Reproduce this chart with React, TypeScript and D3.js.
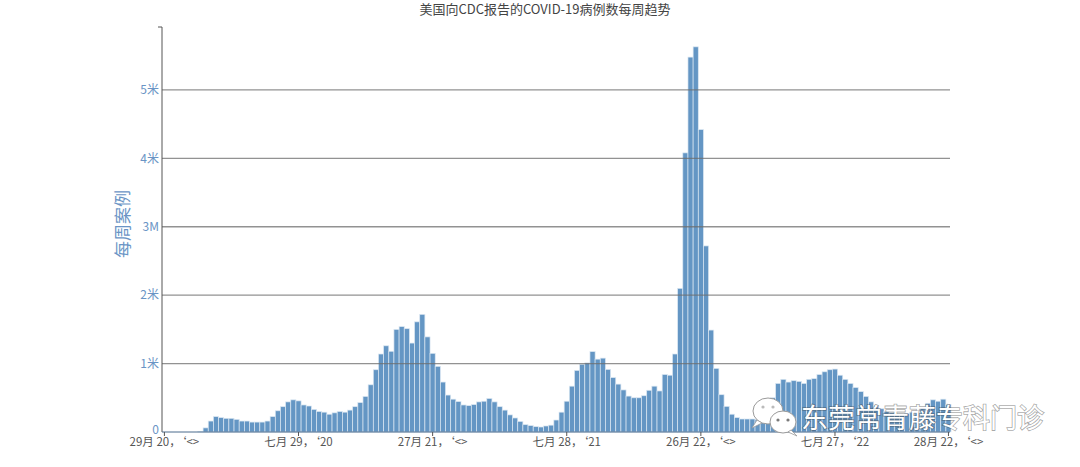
import React from "react";
import * as d3 from "d3";

// ---- data ----
const TITLE = "美国向CDC报告的COVID-19病例数每周趋势";
const Y_TITLE = "每周案例";
const FIRST_WEEK = "2020-03-18"; // first non-zero weekly bar
// weekly reported cases, millions
const weeklyCases = [
  0.01, 0.06, 0.16, 0.225, 0.21, 0.2, 0.2, 0.185, 0.16, 0.16, 0.145, 0.145, 0.145, 0.16,
  0.225, 0.31, 0.37, 0.44, 0.47, 0.455, 0.395, 0.38, 0.33, 0.3, 0.29, 0.26, 0.28, 0.3,
  0.29, 0.32, 0.37, 0.43, 0.52, 0.69, 0.91, 1.14, 1.26, 1.18, 1.5, 1.54, 1.51, 1.3,
  1.61, 1.72, 1.39, 1.15, 0.96, 0.73, 0.54, 0.48, 0.445, 0.395, 0.385, 0.4, 0.44, 0.45,
  0.49, 0.44, 0.37, 0.32, 0.25, 0.205, 0.155, 0.107, 0.093, 0.078, 0.073, 0.088, 0.1, 0.175,
  0.29, 0.45, 0.67, 0.9, 0.99, 1.01, 1.175, 1.065, 1.08, 0.915, 0.795, 0.7, 0.615, 0.525,
  0.5, 0.5, 0.53, 0.61, 0.67, 0.6, 0.84, 0.83, 1.14, 2.1, 4.08, 5.48, 5.63, 4.42,
  2.72, 1.49, 0.93, 0.545, 0.375, 0.26, 0.21, 0.19, 0.19, 0.19, 0.18, 0.19, 0.26, 0.5,
  0.71, 0.77, 0.73, 0.75, 0.74, 0.71, 0.77, 0.78, 0.84, 0.88, 0.91, 0.92, 0.83, 0.77,
  0.71, 0.65, 0.59, 0.52, 0.44, 0.39, 0.34, 0.3, 0.28, 0.26, 0.26, 0.27, 0.29, 0.28,
  0.36, 0.42, 0.47, 0.45, 0.48, 0.4,
];
const yTickValues = [0, 1, 2, 3, 4, 5];
const yTickLabels = ["0", "1米", "2米", "3M", "4米", "5米"];
const xTickDates = ["2020-01-29", "2020-07-29", "2021-01-27", "2021-07-28", "2022-01-26", "2022-07-27", "2022-12-28"];
const xTickLabels = ["29月 20，‘<>", "七月 29，‘20", "27月 21，‘<>", "七月 28，‘21", "26月 22，‘<>", "七月 27，‘22", "28月 22，‘<>"];
const X_DOMAIN = ["2020-01-25T18:00:00Z", "2022-12-30T02:00:00Z"];
const Y_MAX = 5.92;
const WATERMARK = "东莞常青藤专科门诊";

const W = 1080;
const H = 467;
const M = { left: 162, right: 950, top: 27, bottom: 432 };
const FONT = "'Noto Sans CJK SC', 'Noto Sans', sans-serif";

export default function App() {
  const x = d3
    .scaleUtc()
    .domain(X_DOMAIN.map((d) => new Date(d)))
    .range([M.left, M.right]);
  const y = d3.scaleLinear().domain([0, Y_MAX]).range([M.bottom, M.top]);
  const start = d3.utcParse("%Y-%m-%d")(FIRST_WEEK) as Date;
  const bars = weeklyCases.map((v, i) => ({ date: d3.utcDay.offset(start, 7 * i), v }));
  const pitch = x(d3.utcDay.offset(start, 7)) - x(start);
  const parse = d3.utcParse("%Y-%m-%d");

  return (
    <svg
      width={W}
      height={H}
      style={{ position: "fixed", left: 0, top: 0, background: "#fff", fontFamily: FONT }}
    >
      <text x={545} y={14} textAnchor="middle" fontSize={13} fill="#444">
        {TITLE}
      </text>

      {/* bars */}
      <g>
        {bars.map((b, i) => (
          <rect
            key={i}
            x={x(b.date) - pitch / 2}
            width={pitch}
            y={y(b.v)}
            height={y(0) - y(b.v)}
            fill="#6496c4"
            stroke="#dbe7f2"
            strokeWidth={0.7}
          />
        ))}
      </g>

      {/* gridlines */}
      {yTickValues
        .filter((v) => v > 0)
        .map((v) => (
          <line
            key={v}
            x1={M.left}
            x2={M.right}
            y1={y(v)}
            y2={y(v)}
            stroke="#6e6e6e"
            strokeOpacity={0.75}
            strokeWidth={1.3}
          />
        ))}

      {/* axes */}
      <line x1={M.left} x2={M.left} y1={M.top} y2={M.bottom} stroke="#555" strokeWidth={1} />
      <line x1={M.left - 4} x2={M.left} y1={M.top} y2={M.top} stroke="#555" strokeWidth={1} />
      <line x1={M.left} x2={M.right} y1={M.bottom} y2={M.bottom} stroke="#4a6b8c" strokeWidth={1} />

      {yTickValues.map((v, i) => (
        <text
          key={v}
          x={M.left - 3}
          y={y(v) - (v === 0 ? 2 : 0)}
          dy="0.35em"
          textAnchor="end"
          fontSize={12}
          fill="#6a94c5"
        >
          {yTickLabels[i]}
        </text>
      ))}

      <text
        transform={`translate(129,224) rotate(-90)`}
        textAnchor="middle"
        fontSize={17}
        fill="#6a94c5"
      >
        {Y_TITLE}
      </text>

      {xTickDates.map((d, i) => {
        const px = x(parse(d) as Date);
        return (
          <g key={d}>
            <line x1={px} x2={px} y1={M.bottom} y2={M.bottom + 4} stroke="#555" />
            <text x={px} y={446} textAnchor="middle" fontSize={11.5} fill="#555">
              {xTickLabels[i]}
            </text>
          </g>
        );
      })}

      {/* watermark */}
      <g>
        <ellipse cx={768} cy={411} rx={15} ry={13} fill="#fff" stroke="#9a9a9a" strokeWidth={1} />
        <path d="M757,420 L752,428 L762,423 Z" fill="#fff" stroke="#9a9a9a" strokeWidth={0.8} />
        <circle cx={763} cy={407} r={1.6} fill="#bbb" />
        <circle cx={773} cy={407} r={1.6} fill="#bbb" />
        <ellipse cx={783} cy={422} rx={13} ry={11} fill="#fff" stroke="#9a9a9a" strokeWidth={1} />
        <path d="M791,430 L797,436 L788,432 Z" fill="#fff" stroke="#9a9a9a" strokeWidth={0.8} />
        <circle cx={778} cy={420} r={1.6} fill="#7a7a7a" />
        <circle cx={788} cy={420} r={1.6} fill="#7a7a7a" />
        <text
          x={801}
          y={428}
          fontSize={27}
          fill="#fff"
          stroke="rgba(60,60,60,0.45)"
          strokeWidth={1.6}
          paintOrder="stroke"
          fontFamily="'Noto Sans CJK SC', sans-serif"
        >
          {WATERMARK}
        </text>
      </g>
    </svg>
  );
}
